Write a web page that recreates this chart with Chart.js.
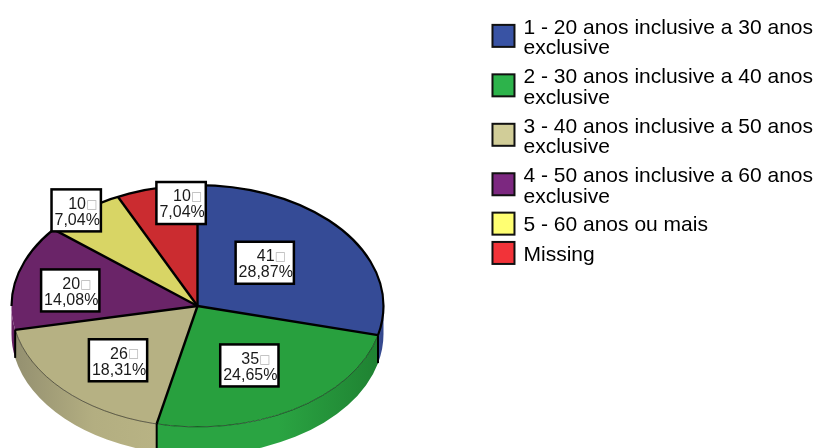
<!DOCTYPE html>
<html>
<head>
<meta charset="utf-8">
<style>html,body{margin:0;padding:0;background:#fff}canvas{display:block}</style>
<script src="https://cdn.jsdelivr.net/npm/chart.js@4"></script>
</head>
<body>
<canvas id="c" width="818" height="448"></canvas>
<script>
const categories = [
  ['1 - 20 anos inclusive a 30 anos', 'exclusive'],
  ['2 - 30 anos inclusive a 40 anos', 'exclusive'],
  ['3 - 40 anos inclusive a 50 anos', 'exclusive'],
  ['4 - 50 anos inclusive a 60 anos', 'exclusive'],
  '5 - 60 anos ou mais',
  'Missing'
];
const counts = [41, 35, 26, 20, 10, 10];
const topColors = ['#354B96', '#28A03E', '#B6B183', '#6A2468', '#D8D565', '#CB2C30'];
const legendColors = ['#3953A4', '#2DB34B', '#D1CD98', '#7C2880', '#FFFF72', '#F23339'];
const wallColors = [
  ['#3A4F98', '#36498F', '#33478C'],
  ['#2AA442', '#2AA442', '#1F8232'],
  ['#949070', '#B3AE81', '#B8B384'],
  ['#6B2368', '#641F60', '#5E1F5C'],
  ['#B0AD55', '#B0AD55', '#B0AD55'],
  ['#A82428', '#A82428', '#A82428']
];
const labelNudges = [[-6, -6], [3, 8], [-13, 12], [-37, -1], [-64, -48], [4, -44]];

const FONT = '"Liberation Sans", Arial, sans-serif';
const view = { cx: 197.5, cy: 306, tilt: 0.65, depth: 28 };
const total = counts.reduce((a, b) => a + b, 0);

const pie3d = {
  id: 'pie3d',
  beforeDatasetsDraw(chart) {
    const ctx = chart.ctx, arcs = chart.getDatasetMeta(0).data;
    const R = arcs[0].outerRadius, r = R * view.tilt;
    const { cx, cy, depth } = view;
    arcs.forEach((arc, i) => {
      const a = Math.max(arc.startAngle, 0), b = Math.min(arc.endAngle, Math.PI);
      if (b <= a) return;
      const x0 = cx + R * Math.cos(b), x1 = cx + R * Math.cos(a);
      const g = ctx.createLinearGradient(x0, 0, x1, 0);
      g.addColorStop(0, wallColors[i][0]);
      g.addColorStop(0.55, wallColors[i][1]);
      g.addColorStop(1, wallColors[i][2]);
      ctx.save();
      ctx.fillStyle = g;
      ctx.beginPath();
      ctx.ellipse(cx, cy, R, r, 0, a, b);
      ctx.ellipse(cx, cy + depth, R, r, 0, b, a, true);
      ctx.closePath();
      ctx.fill();
      ctx.restore();
    });
    const first = arcs[0];
    ctx.save();
    ctx.translate(cx, cy);
    ctx.scale(1, view.tilt);
    ctx.translate(-first.x, -first.y);
  },
  afterDatasetsDraw(chart) {
    const ctx = chart.ctx, arcs = chart.getDatasetMeta(0).data;
    ctx.restore();
    const R = arcs[0].outerRadius, r = R * view.tilt;
    const { cx, cy, depth } = view;
    ctx.save();
    ctx.strokeStyle = '#000';
    // rim, upper half heavy and lower half hairline
    ctx.lineWidth = 2.2;
    ctx.beginPath();
    ctx.ellipse(cx, cy, R, r, 0, Math.PI, arcs[0].endAngle + 2 * Math.PI);
    ctx.stroke();
    ctx.lineWidth = 0.7;
    ctx.strokeStyle = 'rgba(0,0,0,0.75)';
    ctx.beginPath();
    ctx.ellipse(cx, cy, R, r, 0, arcs[0].endAngle, arcs[2].endAngle);
    ctx.stroke();
    ctx.strokeStyle = '#000';
    // spokes and wall seams
    arcs.forEach(arc => {
      const a = arc.startAngle;
      const x = cx + R * Math.cos(a), y = cy + r * Math.sin(a);
      ctx.lineWidth = 2.4;
      ctx.beginPath();
      ctx.moveTo(cx, cy);
      ctx.lineTo(x, y);
      ctx.stroke();
      if (a > 0 && a < Math.PI) {
        ctx.lineWidth = 2;
        ctx.beginPath();
        ctx.moveTo(x, y);
        ctx.lineTo(x, y + depth);
        ctx.stroke();
      }
    });
    // value labels
    arcs.forEach((arc, i) => {
      const mid = (arc.startAngle + arc.endAngle) / 2;
      const px = cx + 0.5 * R * Math.cos(mid) + labelNudges[i][0];
      const py = cy + 0.5 * r * Math.sin(mid) + labelNudges[i][1];
      const pct = (counts[i] / total * 100).toFixed(2).replace('.', ',') + '%';
      ctx.font = '16px ' + FONT;
      const w = ctx.measureText(pct).width + 4, h = 42;
      ctx.fillStyle = '#fff';
      ctx.fillRect(px - w / 2, py - h / 2, w, h);
      ctx.lineWidth = 2.5;
      ctx.strokeStyle = '#000';
      ctx.strokeRect(px - w / 2, py - h / 2, w, h);
      ctx.fillStyle = '#1a1a1a';
      ctx.textBaseline = 'middle';
      ctx.textAlign = 'center';
      ctx.fillText(pct, px + 1, py + 10);
      ctx.textAlign = 'left';
      ctx.fillText(String(counts[i]), px - 8, py - 6);
      ctx.fillStyle = '#b4b4b4';
      ctx.font = '12px "DejaVu Sans"';
      ctx.fillText('\u25A1', px + 10, py - 6);
    });
    ctx.restore();
  },
  afterDraw(chart) {
    const ctx = chart.ctx, boxes = chart.legend.legendHitBoxes;
    ctx.save();
    ctx.strokeStyle = '#111';
    ctx.lineWidth = 2;
    boxes.forEach((hb, i) => {
      const s = 22, y = hb.top + hb.height / 2 - s / 2 - 2;
      ctx.fillStyle = legendColors[i];
      ctx.fillRect(hb.left, y, s, s);
      ctx.strokeRect(hb.left, y, s, s);
    });
    ctx.restore();
  }
};

new Chart(document.getElementById('c'), {
  type: 'pie',
  data: {
    labels: categories,
    datasets: [{
      data: counts,
      backgroundColor: topColors,
      borderWidth: 0,
      radius: 186,
      clip: false
    }]
  },
  options: {
    responsive: false,
    animation: false,
    layout: { padding: { top: 9, right: -5, left: 0, bottom: 0 } },
    plugins: {
      tooltip: { enabled: false },
      legend: {
        position: 'right',
        align: 'start',
        labels: {
          boxWidth: 20.5,
          boxHeight: 20,
          padding: 8.3,
          color: '#111',
          font: { family: FONT, size: 21, lineHeight: 0.98 },
          generateLabels() {
            return categories.map((t, i) => ({
              text: t,
              fillStyle: 'rgba(0,0,0,0)',
              strokeStyle: 'rgba(0,0,0,0)',
              lineWidth: 0,
              index: i
            }));
          }
        }
      }
    }
  },
  plugins: [pie3d]
});
</script>
</body>
</html>
